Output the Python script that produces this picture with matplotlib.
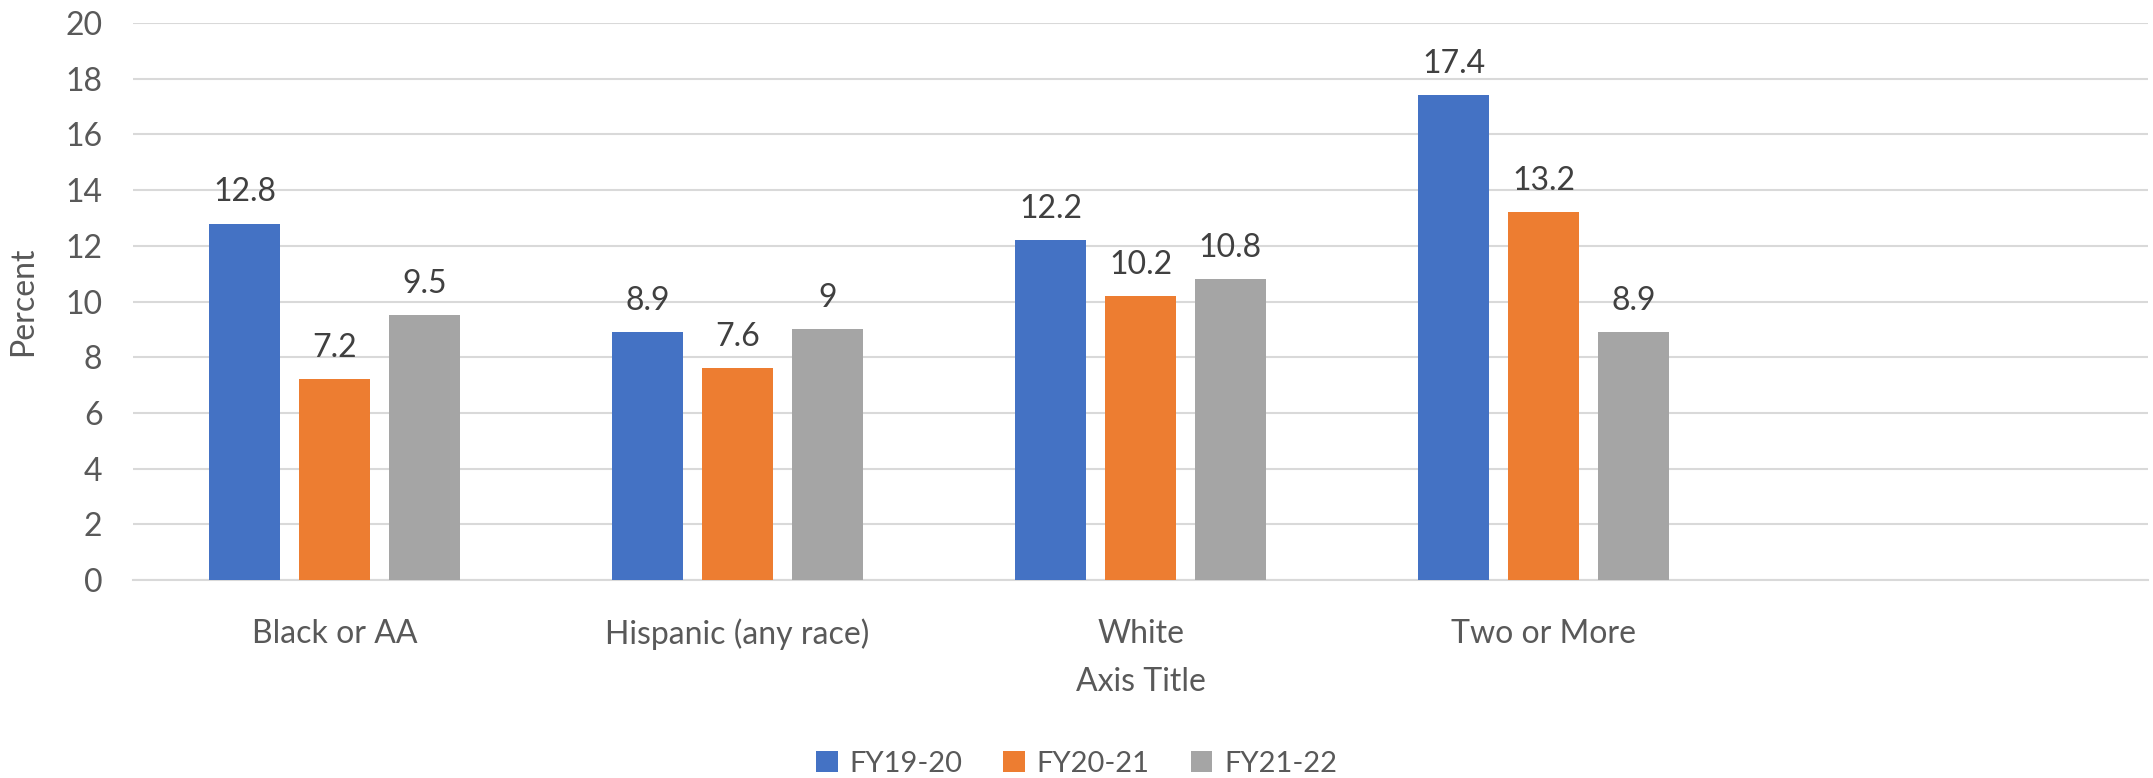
import numpy as np
import matplotlib.pyplot as plt

categories = ["Black or AA", "Hispanic (any race)", "White", "Two or More", ""]
series_names = ["FY19-20", "FY20-21", "FY21-22"]
fy19_20 = [12.8, 8.9, 12.2, 17.4, None]
fy20_21 = [7.2, 7.6, 10.2, 13.2, None]
fy21_22 = [9.5, 9.0, 10.8, 8.9, None]
labels_19 = ["12.8", "8.9", "12.2", "17.4"]
labels_20 = ["7.2", "7.6", "10.2", "13.2"]
labels_21 = ["9.5", "9", "10.8", "8.9"]
colors = ["#4472C4", "#ED7D31", "#A5A5A5"]

plt.rcParams['font.family'] = ['Lato', 'DejaVu Sans']
txt = "#595959"
fs = 23

fig = plt.figure(figsize=(21.53, 7.78), dpi=100)
ax = fig.add_axes([0.0618, 0.2545, 0.9359, 0.7159])

x = np.arange(len(categories))
w = 0.176
pitch = 0.223
series = [fy19_20, fy20_21, fy21_22]
labels = [labels_19, labels_20, labels_21]
for i, (vals, lab, c, name) in enumerate(zip(series, labels, colors, series_names)):
    xs = x[:4] + (i - 1) * pitch
    ax.bar(xs, vals[:4], width=w, color=c, label=name, zorder=3)
    for xi, v, t in zip(xs, vals[:4], lab):
        ax.annotate(t, (xi, v), xytext=(0, 16), textcoords='offset points',
                    ha='center', va='baseline', fontsize=fs, color="#404040")

ax.set_xlim(-0.5, len(categories) - 0.5)
ax.set_ylim(0, 20)
ax.set_yticks(range(0, 21, 2))
ax.set_xticks(x)
ax.set_xticklabels(categories)
ax.tick_params(axis='both', length=0, labelsize=fs, labelcolor=txt)
ax.tick_params(axis='y', pad=22)
ax.tick_params(axis='x', pad=28)
ax.yaxis.grid(True, color="#d9d9d9", linewidth=1.5, zorder=0)
for s in ["top", "right", "left"]:
    ax.spines[s].set_visible(False)
ax.spines["bottom"].set_color("#d9d9d9")
ax.spines["bottom"].set_linewidth(1.5)

ax.set_ylabel("Percent", fontsize=fs, color=txt)
ax.yaxis.set_label_coords(-0.047, 0.5)
ax.set_xlabel("Axis Title", fontsize=fs, color=txt, labelpad=12)

fig.legend(loc='lower center', ncol=3, frameon=False, fontsize=21,
           handlelength=0.75, handleheight=0.75, handletextpad=0.4,
           columnspacing=1.4, labelcolor=txt, bbox_to_anchor=(0.5, -0.032))

fig.savefig("out.png", dpi=100)
